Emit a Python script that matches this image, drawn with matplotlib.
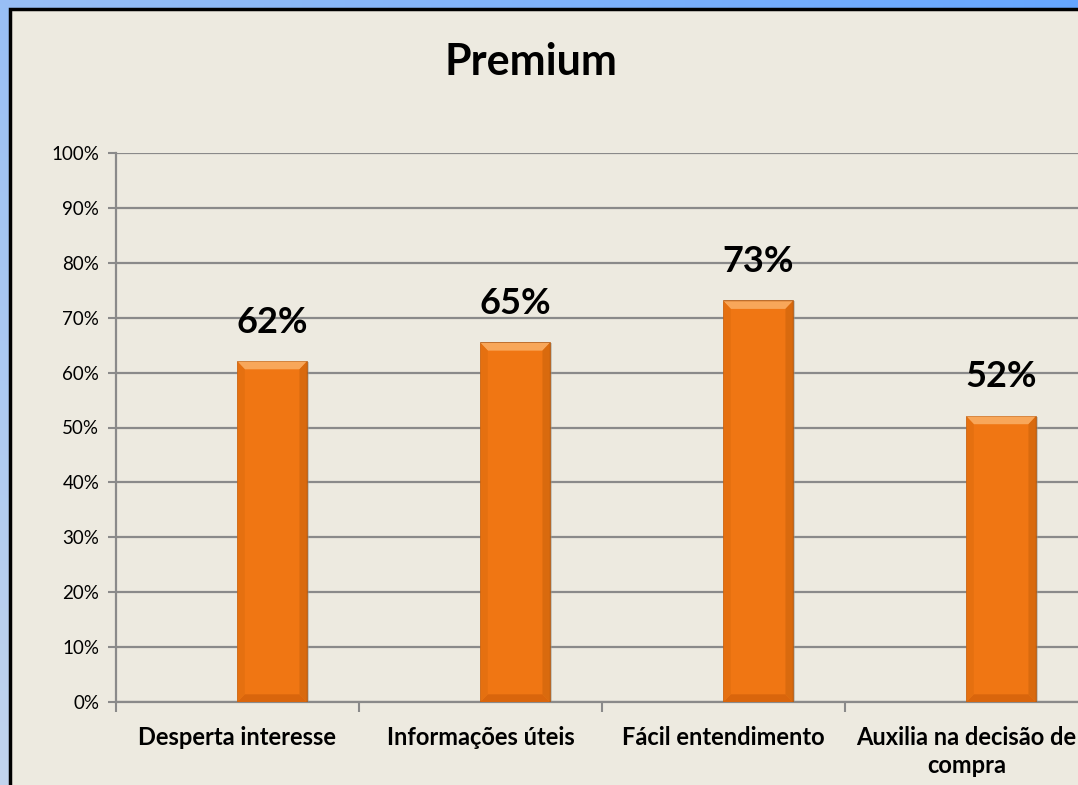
import numpy as np
import matplotlib.pyplot as plt
from matplotlib.patches import Rectangle, Polygon

categorias = ["Desperta interesse", "Informações úteis", "Fácil entendimento",
              "Auxilia na decisão de\ncompra"]
valores = [0.62, 0.654, 0.73, 0.52]
rotulos = ["62%", "65%", "73%", "52%"]
yticks = [0.0, 0.1, 0.2, 0.3, 0.4, 0.5, 0.6, 0.7, 0.8, 0.9, 1.0]

plt.rcParams['font.family'] = ['Lato', 'DejaVu Sans']

fig = plt.figure(figsize=(10.78, 7.85), dpi=100)

# fundo azul em degradê
bg = fig.add_axes([0, 0, 1, 1], zorder=-10)
gx = np.linspace(0, 1, 200)
gy = np.linspace(0, 1, 200)
GX, GY = np.meshgrid(gx, gy)
t = np.clip(0.55 * GX + 0.45 * GY, 0, 1)
c0 = np.array([0.76, 0.83, 0.93])
c1 = np.array([0.40, 0.65, 1.00])
img = c0[None, None, :] * (1 - t[..., None]) + c1[None, None, :] * t[..., None]
bg.imshow(img, origin='lower', extent=[0, 1, 0, 1], aspect='auto')
bg.set_xlim(0, 1)
bg.set_ylim(0, 1)
bg.axis('off')

# painel bege
W, H = 1078, 785
fig.patches.append(Rectangle((10 / W, -0.1), 1.2, (H - 9) / H + 0.1,
                             transform=fig.transFigure, facecolor='#EDEAE0',
                             edgecolor='black', linewidth=2.5, zorder=-5))

ax = fig.add_axes([116 / W, 83 / H, 972 / W, 549 / H])
ax.set_facecolor('none')

x = np.arange(len(valores))
bw = 0.285
xb = x + bw / 2  # barras deslocadas para a direita do centro da categoria
ax.bar(xb + 0.01, valores, width=bw, color='#9a9a90', alpha=0.45, zorder=2)
ax.bar(xb, valores, width=bw, color='#F07613', edgecolor='#B4570C',
       linewidth=1.2, zorder=3)
bv = 0.014
bx = 0.03
for xi, v in zip(xb, valores):
    l, r = xi - bw / 2, xi + bw / 2
    # chanfro superior
    ax.add_patch(Polygon([(l, v), (r, v), (r - bx, v - bv), (l + bx, v - bv)],
                         closed=True, facecolor='#F8A75A', edgecolor='none',
                         zorder=4))
    # chanfro inferior
    ax.add_patch(Polygon([(l, 0), (r, 0), (r - bx, bv), (l + bx, bv)],
                         closed=True, facecolor='#D9650C', edgecolor='none',
                         zorder=4))
    # laterais
    ax.add_patch(Polygon([(r, 0), (r, v), (r - bx, v - bv), (r - bx, bv)],
                         closed=True, facecolor='#D96A0E', edgecolor='none',
                         zorder=4))
    ax.add_patch(Polygon([(l, 0), (l, v), (l + bx, v - bv), (l + bx, bv)],
                         closed=True, facecolor='#E57010', edgecolor='none',
                         zorder=4))

for xi, v, r in zip(xb, valores, rotulos):
    ax.text(xi, v + 0.042, r, ha='center', va='bottom', fontsize=26,
            fontweight='bold', color='black')

ax.set_xlim(-0.5, 3.5)
ax.set_ylim(0, 1)
ax.set_yticks(yticks)
ax.set_yticklabels(["%d%%" % round(v * 100) for v in yticks], fontsize=13.5)
ax.yaxis.grid(True, color='#8A8A8A', linewidth=1.6, zorder=0)
ax.set_axisbelow(True)

ax.set_xticks(x)
ax.set_xticklabels(categorias, fontsize=17, fontweight='bold',
                   linespacing=1.3)
ax.set_xticks(np.arange(-0.5, 4.0, 1.0), minor=True)
ax.tick_params(axis='x', which='major', length=0, pad=17)
ax.tick_params(axis='x', which='minor', length=7, color='#8A8A8A', width=1.5)
ax.tick_params(axis='y', length=6, color='#8A8A8A', width=1.5, pad=6)

for s in ['top', 'right']:
    ax.spines[s].set_visible(False)
ax.spines['left'].set_color('#8A8A8A')
ax.spines['left'].set_linewidth(1.6)
ax.spines['bottom'].set_color('#8A8A8A')
ax.spines['bottom'].set_linewidth(1.6)

fig.text(531 / W, 1 - 62 / H, "Premium", ha='center', va='center',
         fontsize=31, fontweight='bold')

fig.savefig('out.png', dpi=100)
